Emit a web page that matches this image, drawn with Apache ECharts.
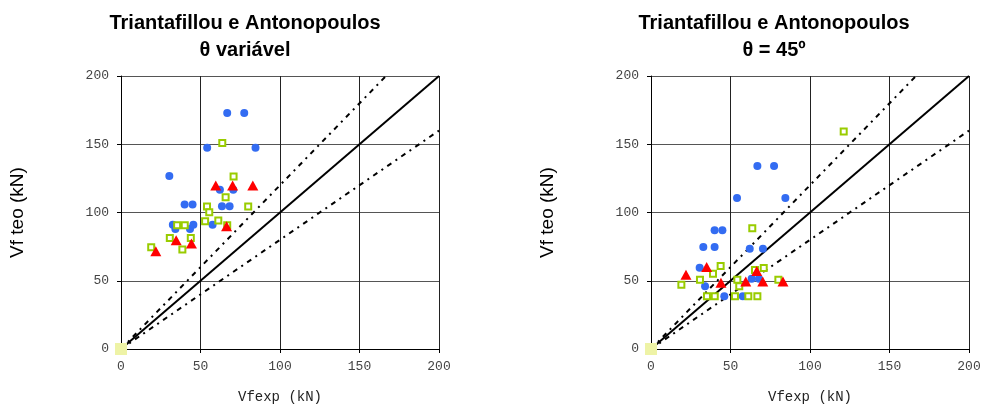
<!DOCTYPE html>
<html>
<head>
<meta charset="utf-8">
<script src="https://cdn.jsdelivr.net/npm/echarts@6/dist/echarts.min.js"></script>
<style>
html,body{margin:0;padding:0;background:#fff;}
#c{width:984px;height:412px;}
</style>
</head>
<body>
<div id="c"></div>
<script>
// ---- data ----
const titles = ["Triantafillou e Antonopoulos\nθ variável", "Triantafillou e Antonopoulos\nθ = 45º"];
const xName = "Vfexp (kN)";
const yName = "Vf teo (kN)";

const leftBlueX = [66.8, 77.5, 54.2, 84.6, 30.4, 62.2, 70.6, 40.0, 45.0, 63.5, 68.3, 32.6, 34.2, 43.4, 45.5, 57.6];
const leftBlueY = [172.9, 172.9, 147.4, 147.4, 126.7, 116.6, 116.6, 105.9, 105.9, 104.6, 104.6, 91.0, 88.0, 88.0, 91.0, 91.0];
const leftGreenX = [63.7, 70.8, 65.8, 54.1, 55.5, 80.0, 35.3, 40.1, 52.9, 61.2, 66.8, 30.7, 43.9, 38.6, 19.0];
const leftGreenY = [150.9, 126.4, 111.2, 104.4, 100.2, 104.4, 90.7, 90.7, 93.6, 94.1, 90.7, 81.4, 81.4, 72.9, 74.5];
const leftRedX = [21.9, 34.7, 44.3, 59.6, 70.2, 82.9, 66.4];
const leftRedY = [71.6, 79.7, 77.3, 119.8, 119.8, 119.8, 90.0];

const rightBlueX = [66.9, 77.4, 54.1, 84.5, 40.0, 44.9, 32.9, 40.0, 62.1, 70.4, 30.6, 34.0, 46.1, 57.7, 63.3, 67.9];
const rightBlueY = [134.1, 134.1, 110.7, 110.7, 87.0, 87.0, 74.7, 74.7, 73.4, 73.4, 59.6, 46.0, 38.6, 38.6, 51.5, 51.5];
const rightGreenX = [121.2, 63.7, 43.8, 39.0, 30.8, 19.1, 54.3, 55.5, 65.4, 70.9, 80.1, 35.2, 40.1, 52.8, 61.2, 66.9];
const rightGreenY = [159.4, 88.5, 60.8, 55.2, 50.7, 47.0, 50.7, 46.0, 57.9, 59.3, 50.7, 38.6, 38.6, 38.6, 38.6, 38.6];
const rightRedX = [22.0, 35.0, 44.0, 59.6, 66.5, 70.3, 83.0];
const rightRedY = [54.4, 60.1, 48.5, 49.5, 57.1, 49.5, 49.5];

const originX = [0];
const originY = [0];

const refX = [0, 200];
const refSlopes = [1, 1.2, 0.8];

// ---- build ----
const zip = (xs, ys) => xs.map((x, i) => [x, ys[i]]);
const grids = [
  {left: 121, right: 545, top: 76, bottom: 63},
  {left: 651, right: 15, top: 76, bottom: 63}
];
const titleCenters = [240, 769];

function xAxis(gi) {
  return {
    type: 'value', gridIndex: gi, min: 0, max: 200, interval: 50,
    name: xName, nameLocation: 'middle', nameGap: 41,
    nameTextStyle: {fontFamily: 'Liberation Mono', fontSize: 14, color: '#222'},
    axisLine: {show: true, onZero: false, lineStyle: {color: '#000', width: 1}},
    axisTick: {show: true, length: 4, lineStyle: {color: '#000'}},
    axisLabel: {fontFamily: 'Liberation Mono', fontSize: 13, color: '#444', margin: 11},
    splitLine: {show: true, lineStyle: {color: '#222', width: 1}}
  };
}
function yAxis(gi) {
  return {
    type: 'value', gridIndex: gi, min: 0, max: 200, interval: 50,
    name: yName, nameLocation: 'middle', nameGap: 94, nameRotate: 90,
    nameTextStyle: {fontFamily: 'Liberation Sans', fontSize: 19, color: '#000'},
    axisLine: {show: true, onZero: false, lineStyle: {color: '#000', width: 1}},
    axisTick: {show: true, length: 4, lineStyle: {color: '#000'}},
    axisLabel: {fontFamily: 'Liberation Mono', fontSize: 13, color: '#444', margin: 12},
    splitLine: {show: true, lineStyle: {color: '#555', width: 1}}
  };
}

const sets = [
  {blue: zip(leftBlueX, leftBlueY), green: zip(leftGreenX, leftGreenY), red: zip(leftRedX, leftRedY)},
  {blue: zip(rightBlueX, rightBlueY), green: zip(rightGreenX, rightGreenY), red: zip(rightRedX, rightRedY)}
];

const series = [];
sets.forEach((s, gi) => {
  refSlopes.forEach((k, li) => {
    series.push({
      type: 'line', xAxisIndex: gi, yAxisIndex: gi, showSymbol: false, silent: true,
      clip: true, z: 1,
      data: refX.map(x => [x, k * x]),
      lineStyle: li === 0 ? {color: '#000', width: 2, type: 'solid'}
                          : {color: '#000', width: 2, type: [5, 5, 2, 5]}
    });
  });
  series.push({type: 'scatter', xAxisIndex: gi, yAxisIndex: gi, clip: false, z: 3,
    data: zip(originX, originY), symbol: 'rect', symbolSize: 12,
    itemStyle: {color: '#eef3a6', opacity: 1}});
  series.push({type: 'scatter', xAxisIndex: gi, yAxisIndex: gi, z: 3,
    data: s.blue, symbol: 'circle', symbolSize: 8,
    itemStyle: {color: '#336cf2', opacity: 1}});
  series.push({type: 'scatter', xAxisIndex: gi, yAxisIndex: gi, z: 4,
    data: s.green, symbol: 'rect', symbolSize: 6,
    itemStyle: {color: '#fff', borderColor: '#99cc00', borderWidth: 2, opacity: 1}});
  series.push({type: 'scatter', xAxisIndex: gi, yAxisIndex: gi, z: 5,
    data: s.red, symbol: 'triangle', symbolSize: [11, 10],
    itemStyle: {color: '#ff0000', opacity: 1}});
});

const chart = echarts.init(document.getElementById('c'), null, {renderer: 'canvas'});
chart.setOption({
  animation: false,
  backgroundColor: '#fff',
  title: titles.map((t, i) => ({
    text: t, left: titleCenters[i], top: 5, textAlign: 'center',
    textStyle: {fontFamily: 'Liberation Sans', fontWeight: 'bold', fontSize: 20, lineHeight: 27, color: '#000'}
  })),
  grid: grids,
  xAxis: [xAxis(0), xAxis(1)],
  yAxis: [yAxis(0), yAxis(1)],
  series: series
});
</script>
</body>
</html>
